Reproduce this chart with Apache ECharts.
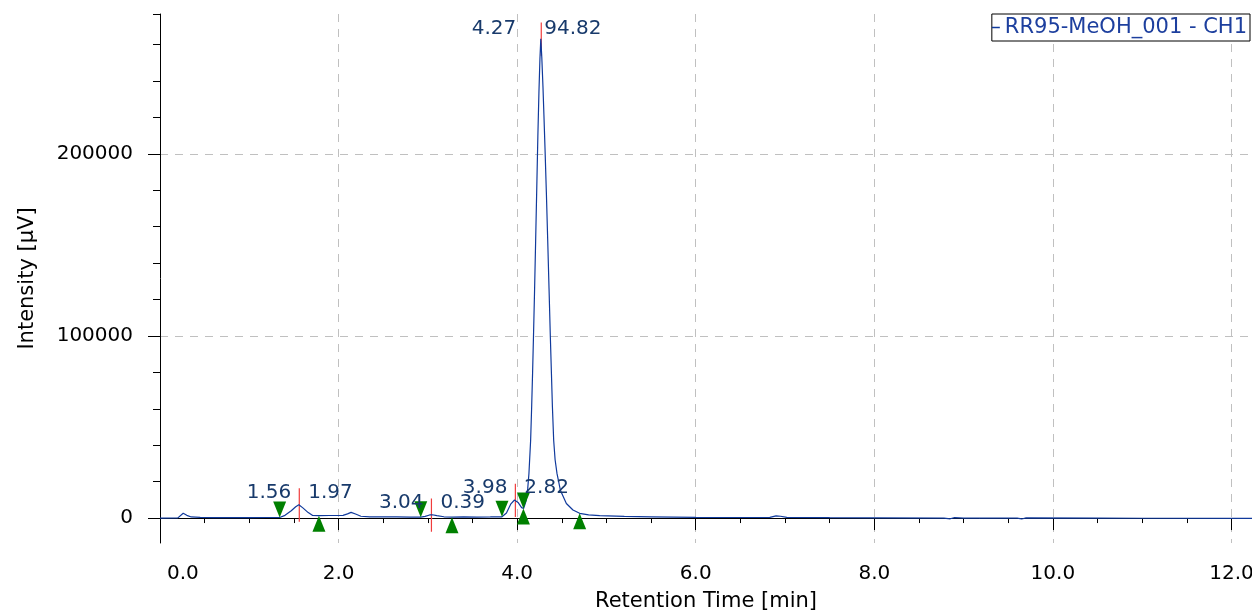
<!DOCTYPE html>
<html>
<head>
<meta charset="utf-8">
<script src="https://cdn.jsdelivr.net/npm/echarts@6/dist/echarts.min.js"></script>
<style>
  html, body { margin: 0; padding: 0; background: #fff; }
  #chart { width: 1252px; height: 612px; }
</style>
</head>
<body>
<div id="chart"></div>
<script>
// chromatogram trace, [retention time (min), intensity (µV)]
const trace = [
  [0, 0], [0.2, 100], [0.22, 600], [0.26, 2600], [0.3, 1500], [0.35, 600], [0.45, 400], [0.6, 200],
  [0.8, 300], [1.0, 200], [1.2, 300], [1.34, 300],
  [1.40, 1500], [1.47, 4000], [1.52, 6200], [1.555, 7300], [1.60, 5600], [1.66, 3000], [1.71, 1400],
  [1.78, 1300], [1.9, 1400], [2.05, 1500], [2.10, 2300], [2.14, 3100], [2.19, 2200], [2.25, 1000],
  [2.35, 700], [2.5, 600], [2.65, 700], [2.8, 500], [2.92, 500],
  [2.97, 900], [3.02, 1700], [3.05, 1800], [3.10, 1300], [3.18, 700], [3.27, 500], [3.4, 600],
  [3.55, 500], [3.7, 600], [3.83, 700],
  [3.88, 2800], [3.93, 7800], [3.97, 9900], [4.01, 8600], [4.05, 5700], [4.073, 5300],
  [4.10, 9500], [4.118, 16000], [4.132, 24500], [4.151, 42700], [4.163, 62000], [4.173, 80000],
  [4.183, 100000], [4.195, 125000], [4.207, 152000], [4.220, 182000], [4.232, 210000], [4.244, 234000],
  [4.255, 252000], [4.265, 263200],
  [4.276, 253000], [4.289, 237000], [4.300, 221000], [4.312, 203000], [4.327, 179000], [4.342, 153000],
  [4.357, 126000], [4.372, 99000], [4.384, 79300], [4.395, 61000], [4.409, 42700], [4.425, 32000],
  [4.446, 24500], [4.484, 15300], [4.551, 8000], [4.625, 4400], [4.700, 2600], [4.8, 1700], [4.924, 1300],
  [5.2, 900], [5.5, 700], [6.0, 400], [6.4, 300], [6.83, 400], [6.9, 1200], [6.95, 1000], [7.02, 400],
  [7.5, 200], [8.0, 100], [8.78, 0], [8.85, -400], [8.9, 200], [9.0, 0], [9.6, 0], [9.65, -500],
  [9.7, 100], [10.5, 0], [11.0, -100], [12.23, -200]
];

// integrated peaks
const peakTimes = [1.56, 3.04, 3.98, 4.27];
const peakHeights = [7300, 1800, 9900, 263200];
const peakAreas = ["1.97", "0.39", "2.82", "94.82"];
const peakStarts = [[1.34, 300], [2.92, 500], [3.83, 700], [4.07, 5300]];
const peakEnds = [[1.78, 1300], [3.27, 500], [4.07, 5300], [4.70, 2600]];

const xTicks = [0, 2, 4, 6, 8, 10, 12];
const xMinorTicks = [0.5, 1, 1.5, 2.5, 3, 3.5, 4.5, 5, 5.5, 6.5, 7, 7.5, 8.5, 9, 9.5, 10.5, 11, 11.5];
const yTicks = [0, 100000, 200000];
const yMinorTicks = [20000, 40000, 60000, 80000, 120000, 140000, 160000, 180000, 220000, 240000, 260000, 276800];

const seriesName = "RR95-MeOH_001 - CH1";
const font = "DejaVu Sans";
const xMax = 12.23;
const yMin = -13700;
const yMax = 276800;

const chart = echarts.init(document.getElementById("chart"));

const gridLine = { show: true, lineStyle: { color: "#c0c0c0", width: 1, type: [8, 7] } };
const peakText = { fontFamily: font, fontSize: 20, color: "#183a6b" };

// apex markers: one short vertical segment per peak, gaps between them
const apexLines = [];
peakTimes.forEach((t, i) => {
  apexLines.push([t, peakHeights[i] + 9000], [t, peakHeights[i] - 9300], null);
});

chart.setOption({
  animation: false,
  grid: { left: 160, right: 0, top: 14, bottom: 69, outerBoundsMode: "none" },
  legend: {
    data: [seriesName],
    right: 2,
    top: 14,
    padding: [3, 3, 3, 0],
    backgroundColor: "#fff",
    borderColor: "#000",
    borderWidth: 1,
    icon: "rect",
    itemWidth: 8,
    itemHeight: 1.5,
    textStyle: { fontFamily: font, fontSize: 21, color: "#1d3f9e" }
  },
  xAxis: [
    {
      type: "value", min: 0, max: xMax,
      name: "Retention Time [min]", nameLocation: "middle", nameGap: 48,
      nameTextStyle: { fontFamily: font, fontSize: 21, color: "#000" },
      axisLine: { lineStyle: { color: "#000" } },
      axisTick: { customValues: xTicks, length: 12, lineStyle: { color: "#000" } },
      axisLabel: {
        customValues: xTicks, margin: 21, alignMinLabel: "left",
        fontFamily: font, fontSize: 20, color: "#000",
        formatter: (v) => (v === 0 ? "{first|0.0}" : v.toFixed(1)),
        rich: { first: { fontFamily: font, fontSize: 20, color: "#000", padding: [0, 0, 0, 7] } }
      },
      splitLine: gridLine
    },
    {
      type: "value", min: 0, max: xMax, position: "bottom",
      axisLine: { show: false },
      axisTick: { customValues: xMinorTicks, length: 5, lineStyle: { color: "#000" } },
      axisLabel: { show: false },
      splitLine: { show: false }
    }
  ],
  yAxis: [
    {
      type: "value", min: yMin, max: yMax,
      name: "Intensity [µV]", nameLocation: "middle", nameGap: 122,
      nameTextStyle: { fontFamily: font, fontSize: 21, color: "#000" },
      axisLine: { show: true, lineStyle: { color: "#000" } },
      axisTick: { show: true, customValues: yTicks, length: 12, lineStyle: { color: "#000" } },
      axisLabel: {
        customValues: yTicks, margin: 27, fontFamily: font, fontSize: 20, color: "#000",
        formatter: (v) => String(v)
      },
      splitLine: gridLine
    },
    {
      type: "value", min: yMin, max: yMax, position: "left",
      axisLine: { show: false },
      axisTick: { show: true, customValues: yMinorTicks, length: 7, lineStyle: { color: "#000" } },
      axisLabel: { show: false },
      splitLine: { show: false }
    }
  ],
  series: [
    {
      name: "apex",
      type: "line",
      data: apexLines,
      symbol: "none",
      connectNulls: false,
      silent: true,
      z: 2,
      lineStyle: { color: "#f03c3c", width: 1.2 },
      itemStyle: { color: "#f03c3c" }
    },
    {
      name: seriesName,
      type: "line",
      data: trace,
      symbol: "none",
      z: 3,
      lineStyle: { color: "#103a9c", width: 1.2 },
      itemStyle: { color: "#103a9c" }
    },
    {
      name: "start",
      type: "scatter",
      data: peakStarts,
      symbol: "triangle",
      symbolRotate: 180,
      symbolSize: [13, 16],
      symbolOffset: [0, "-50%"],
      itemStyle: { color: "#008000", opacity: 1 },
      z: 4
    },
    {
      name: "end",
      type: "scatter",
      data: peakEnds,
      symbol: "triangle",
      symbolSize: [13, 16],
      symbolOffset: [0, "50%"],
      itemStyle: { color: "#008000", opacity: 1 },
      z: 4
    },
    {
      name: "rt",
      type: "scatter",
      symbolSize: 0,
      z: 5,
      itemStyle: { opacity: 1 },
      data: peakTimes.map((t, i) => ({
        value: [t, peakHeights[i]],
        label: { offset: i === 3 ? [-25, -10] : [-8, -12] }
      })),
      label: {
        show: true, position: "inside", align: "right", verticalAlign: "middle", ...peakText,
        formatter: (p) => p.value[0].toFixed(2)
      }
    },
    {
      name: "area",
      type: "scatter",
      symbolSize: 0,
      z: 5,
      itemStyle: { opacity: 1 },
      data: peakTimes.map((t, i) => ({
        value: [t, peakHeights[i]],
        label: { offset: i === 3 ? [3, -10] : [9, -12] }
      })),
      label: {
        show: true, position: "inside", align: "left", verticalAlign: "middle", ...peakText,
        formatter: (p) => peakAreas[p.dataIndex]
      }
    }
  ]
});
</script>
</body>
</html>
